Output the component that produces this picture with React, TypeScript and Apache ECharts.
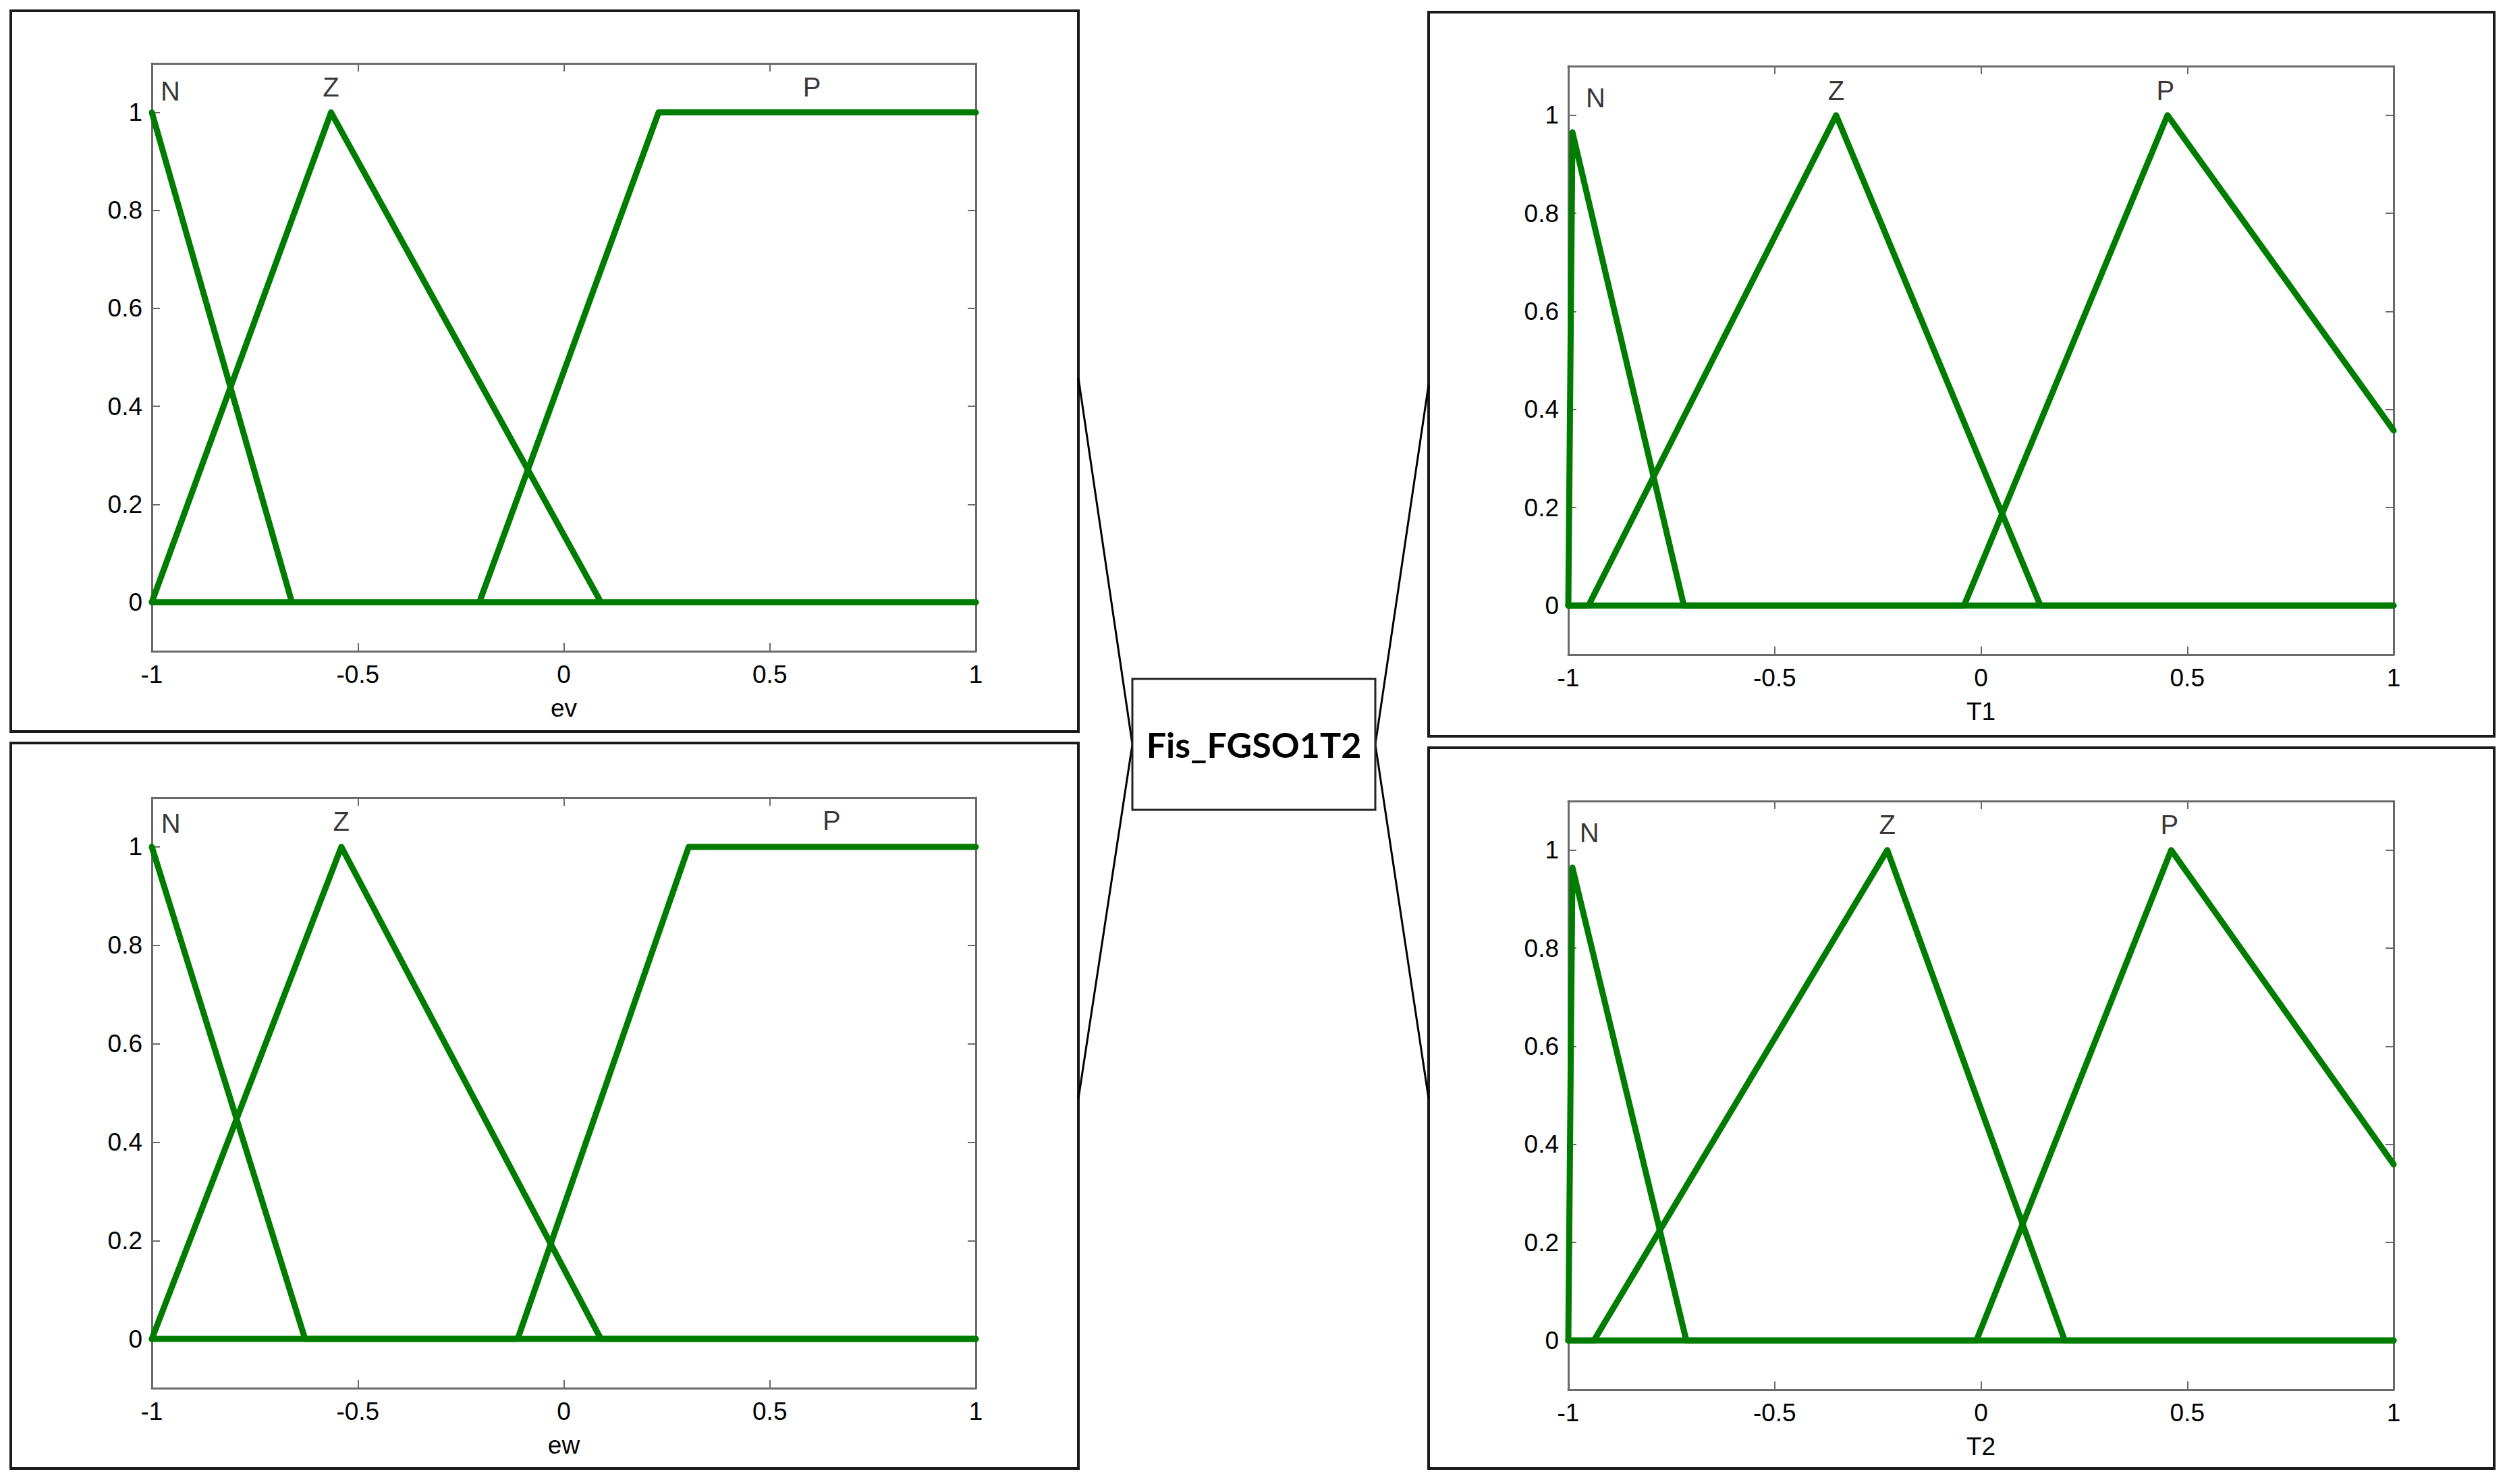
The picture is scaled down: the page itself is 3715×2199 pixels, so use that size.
import React, { useEffect, useRef } from "react";
import * as echarts from "echarts";

// ---------- data ----------
const xTicks = [-1, -0.5, 0, 0.5, 1];
const yTicks = [0, 0.2, 0.4, 0.6, 0.8, 1];

// ev (top-left)
const evN = [[-1, 1], [-0.66, 0], [1, 0]];
const evZ = [[-1, 0], [-0.565, 1], [0.09, 0], [1, 0]];
const evP = [[-1, 0], [-0.205, 0], [0.23, 1], [1, 1]];
const evLabels = [["N", -0.955, 1.044], ["Z", -0.565, 1.052], ["P", 0.602, 1.052]];

// T1 (top-right)
const t1N = [[-1, 0], [-0.99, 0.965], [-0.72, 0], [1, 0]];
const t1Z = [[-1, 0], [-0.951, 0], [-0.351, 1], [0.144, 0], [1, 0]];
const t1P = [[-1, 0], [-0.041, 0], [0.452, 1], [1, 0.357]];
const t1Labels = [["N", -0.934, 1.035], ["Z", -0.351, 1.05], ["P", 0.447, 1.05]];

// ew (bottom-left)
const ewN = [[-1, 1], [-0.628, 0], [1, 0]];
const ewZ = [[-1, 0], [-0.54, 1], [0.09, 0], [1, 0]];
const ewP = [[-1, 0], [-0.112, 0], [0.303, 1], [1, 1]];
const ewLabels = [["N", -0.954, 1.048], ["Z", -0.54, 1.052], ["P", 0.65, 1.054]];

// T2 (bottom-right)
const t2N = [[-1, 0], [-0.99, 0.964], [-0.714, 0], [1, 0]];
const t2Z = [[-1, 0], [-0.938, 0], [-0.227, 1], [0.203, 0], [1, 0]];
const t2P = [[-1, 0], [-0.011, 0], [0.461, 1], [1, 0.359]];
const t2Labels = [["N", -0.949, 1.035], ["Z", -0.227, 1.052], ["P", 0.457, 1.052]];

const axisNames = ["ev", "T1", "ew", "T2"];
const centerTitle = "Fis_FGSO1T2";

// ---------- layout ----------
const W = 3715;
const H = 2199;
const grids = [
  { left: 225, top: 94, width: 1221, height: 871 },
  { left: 2324, top: 98, width: 1223, height: 872 },
  { left: 225, top: 1182, width: 1221, height: 875 },
  { left: 2324, top: 1187, width: 1223, height: 872 },
];
const boxes = [
  [16, 16, 1598, 1084],
  [2117, 18, 3696, 1091],
  [16, 1101, 1598, 2176],
  [2117, 1108, 3696, 2176],
];
const centerBox = [1678, 1006, 2038, 1200];
const links = [
  [1598, 560, 1678, 1103],
  [1598, 1628, 1678, 1103],
  [2117, 570, 2038, 1103],
  [2117, 1628, 2038, 1103],
];

const GREEN = "#007d00";
const FRAME = "#6a6a6a";
const FONT = "Liberation Sans";

const panelMfs = [
  [evN, evZ, evP],
  [t1N, t1Z, t1P],
  [ewN, ewZ, ewP],
  [t2N, t2Z, t2P],
];
const panelLabels = [evLabels, t1Labels, ewLabels, t2Labels];

function buildOption() {
  const xAxis: any[] = [];
  const yAxis: any[] = [];
  const series: any[] = [];
  grids.forEach((_, g) => {
    const common = {
      gridIndex: g,
      axisLine: { show: true, onZero: false, lineStyle: { color: FRAME, width: 3 } },
      splitLine: { show: false },
    };
    xAxis.push({
      ...common,
      type: "value",
      position: "bottom",
      min: -1,
      max: 1,
      interval: 0.5,
      name: axisNames[g],
      nameLocation: "middle",
      nameGap: 66,
      nameTextStyle: { fontSize: 37, color: "#000", fontFamily: FONT },
      axisTick: { show: true, inside: true, length: 12, lineStyle: { color: FRAME, width: 2 } },
      axisLabel: {
        show: true,
        margin: 16,
        fontSize: 37,
        color: "#000",
        fontFamily: FONT,
        showMinLabel: true,
        showMaxLabel: true,
        customValues: xTicks,
        formatter: (v: number) => String(v),
      },
    });
    xAxis.push({
      ...common,
      type: "value",
      position: "top",
      min: -1,
      max: 1,
      interval: 0.5,
      axisTick: { show: true, inside: true, length: 12, lineStyle: { color: FRAME, width: 2 } },
      axisLabel: { show: false },
    });
    yAxis.push({
      ...common,
      type: "value",
      position: "left",
      min: -0.1,
      max: 1.1,
      axisTick: {
        show: true,
        inside: true,
        length: 12,
        customValues: yTicks,
        lineStyle: { color: FRAME, width: 2 },
      },
      axisLabel: {
        show: true,
        margin: 14,
        fontSize: 37,
        color: "#000",
        fontFamily: FONT,
        customValues: yTicks,
        formatter: (v: number) => String(Math.round(v * 10) / 10),
      },
    });
    yAxis.push({
      ...common,
      type: "value",
      position: "right",
      min: -0.1,
      max: 1.1,
      axisTick: {
        show: true,
        inside: true,
        length: 12,
        customValues: yTicks,
        lineStyle: { color: FRAME, width: 2 },
      },
      axisLabel: { show: false, customValues: yTicks },
    });

    panelMfs[g].forEach((mf) => {
      series.push({
        type: "line",
        xAxisIndex: 2 * g,
        yAxisIndex: 2 * g,
        data: mf,
        symbol: "none",
        lineStyle: { color: GREEN, width: 9, join: "round", cap: "round" },
        silent: true,
      });
    });
    series.push({
      type: "scatter",
      xAxisIndex: 2 * g,
      yAxisIndex: 2 * g,
      data: panelLabels[g].map((d) => [d[1], d[2], d[0]]),
      symbolSize: 1,
      itemStyle: { color: "rgba(0,0,0,0)" },
      silent: true,
      label: {
        show: true,
        position: "inside",
        formatter: (p: any) => p.data[2],
        fontSize: 40,
        color: "#000",
        fontFamily: FONT,
      },
    });
  });

  const graphic: any[] = [];
  boxes.forEach((b) => {
    graphic.push({
      type: "rect",
      shape: { x: b[0], y: b[1], width: b[2] - b[0], height: b[3] - b[1] },
      style: { fill: "none", stroke: "#1a1a1a", lineWidth: 4 },
      silent: true,
    });
  });
  links.forEach((l) => {
    graphic.push({
      type: "line",
      shape: { x1: l[0], y1: l[1], x2: l[2], y2: l[3] },
      style: { stroke: "#000", lineWidth: 3 },
      silent: true,
    });
  });
  graphic.push({
    type: "rect",
    shape: {
      x: centerBox[0],
      y: centerBox[1],
      width: centerBox[2] - centerBox[0],
      height: centerBox[3] - centerBox[1],
    },
    style: { fill: "#fff", stroke: "#222", lineWidth: 3 },
    silent: true,
  });
  graphic.push({
    type: "text",
    x: (centerBox[0] + centerBox[2]) / 2,
    y: (centerBox[1] + centerBox[3]) / 2,
    style: {
      text: centerTitle,
      fill: "#000",
      fontSize: 52,
      fontWeight: "bold",
      fontFamily: "Lato",
      align: "center",
      verticalAlign: "middle",
      textAlign: "center",
      textVerticalAlign: "middle",
    },
    silent: true,
  });

  return {
    animation: false,
    backgroundColor: "#fff",
    grid: grids.map((g) => ({ ...g, containLabel: false })),
    xAxis,
    yAxis,
    series,
    graphic,
  };
}

export default function App() {
  const ref = useRef<HTMLDivElement>(null);
  useEffect(() => {
    if (!ref.current) return;
    const chart = echarts.init(ref.current, undefined, { renderer: "svg" });
    chart.setOption(buildOption() as any);
    return () => chart.dispose();
  }, []);
  return (
    <div
      ref={ref}
      style={{ position: "absolute", left: 0, top: 0, width: W, height: H, background: "#fff" }}
    />
  );
}
